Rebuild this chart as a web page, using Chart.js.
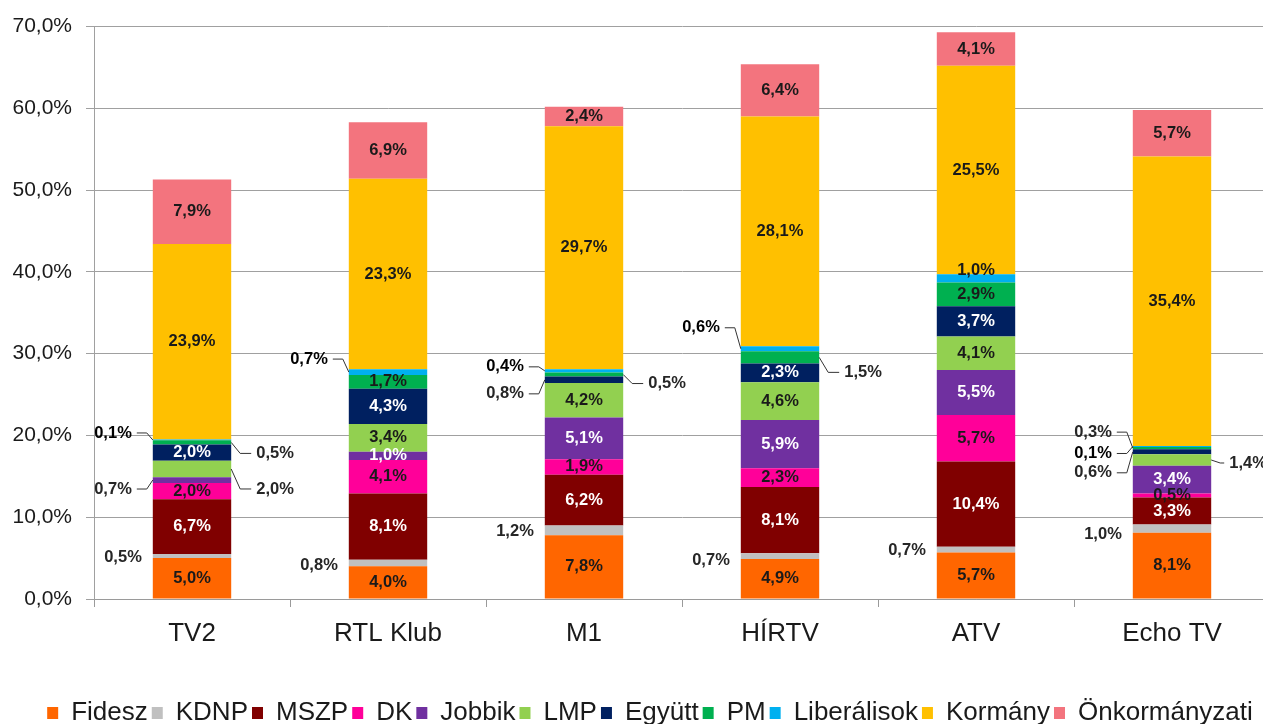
<!DOCTYPE html>
<html>
<head>
<meta charset="utf-8">
<script src="https://cdn.jsdelivr.net/npm/chart.js@4"></script>
<style>
    html, body { margin: 0; padding: 0; background: #fff; overflow: hidden; }
    #wrap { width: 1270px; height: 724px; }
</style>
</head>
<body>
<div id="wrap"><canvas id="mediaChart" width="1270" height="724"></canvas></div>
<script>
// categories and series (share of airtime, %)
const channels = ['TV2', 'RTL Klub', 'M1', 'HÍRTV', 'ATV', 'Echo TV'];
const parties = ['Fidesz', 'KDNP', 'MSZP', 'DK', 'Jobbik', 'LMP', 'Együtt', 'PM', 'Liberálisok', 'Kormány', 'Önkormányzati'];

const fidesz        = [5.0, 4.0, 7.8, 4.9, 5.7, 8.1];
const kdnp          = [0.5, 0.8, 1.2, 0.7, 0.7, 1.0];
const mszp          = [6.7, 8.1, 6.2, 8.1, 10.4, 3.3];
const dk            = [2.0, 4.1, 1.9, 2.3, 5.7, 0.5];
const jobbik        = [0.7, 1.0, 5.1, 5.9, 5.5, 3.4];
const lmp           = [2.0, 3.4, 4.2, 4.6, 4.1, 1.4];
const egyutt        = [2.0, 4.3, 0.8, 2.3, 3.7, 0.6];
const pm            = [0.5, 1.7, 0.5, 1.5, 2.9, 0.3];
const liberalisok   = [0.1, 0.7, 0.4, 0.6, 1.0, 0.1];
const kormany       = [23.9, 23.3, 29.7, 28.1, 25.5, 35.4];
const onkormanyzati = [7.9, 6.9, 2.4, 6.4, 4.1, 5.7];

const yTicks = [0, 10, 20, 30, 40, 50, 60, 70];

const series = [fidesz, kdnp, mszp, dk, jobbik, lmp, egyutt, pm, liberalisok, kormany, onkormanyzati];
const colors = ['#FF6600', '#C0C0C0', '#800000', '#FF0099', '#7030A0', '#92D050', '#002060', '#00B050', '#00B0F0', '#FFC000', '#F3747E'];
const whiteText = [2, 4, 6]; // MSZP, Jobbik, Együtt

// labels that sit outside the bar (key: bar-dataset), dy in px from segment middle
const callouts = {
    '0-1': { side: 'L', dy: 1 },
    '0-4': { side: 'L', dy: 9, leader: true },
    '0-5': { side: 'R', dy: 20, leader: true },
    '0-7': { side: 'R', dy: 11, leader: true },
    '0-8': { side: 'L', dy: -7, leader: true },
    '1-1': { side: 'L', dy: 2 },
    '1-8': { side: 'L', dy: -13, leader: true },
    '2-1': { side: 'L', dy: 1 },
    '2-6': { side: 'L', dy: 14, leader: true },
    '2-7': { side: 'R', dy: 9, leader: true },
    '2-8': { side: 'L', dy: -4, leader: true },
    '3-1': { side: 'L', dy: 4 },
    '3-7': { side: 'R', dy: 15, leader: true },
    '3-8': { side: 'L', dy: -21, leader: true },
    '4-1': { side: 'L', dy: 1 },
    '5-1': { side: 'L', dy: 6 },
    '5-5': { side: 'R', dy: 3, leader: true, gap: 18 },
    '5-6': { side: 'L', dy: 21, leader: true },
    '5-7': { side: 'L', dy: -16, leader: true },
    '5-8': { side: 'L', dy: 7, leader: true },
};
const insideShift = { '4-8': -8 };

const fmt = v => v.toFixed(1).replace('.', ',') + '%';
const axisFont = '"Liberation Sans", Arial, sans-serif';

const valueLabels = {
    id: 'valueLabels',
    afterLayout(chart) {
        // legend sits a little right of centre in the original
        if (chart.legend) {
            chart.legend.left += 9;
            chart.legend.right += 9;
        }
    },
    afterDatasetsDraw(chart) {
        const ctx = chart.ctx;
        ctx.save();
        ctx.textBaseline = 'middle';
        ctx.font = 'bold 16.5px ' + axisFont;
        chart.data.datasets.forEach((ds, di) => {
            const meta = chart.getDatasetMeta(di);
            meta.data.forEach((el, bi) => {
                const { x, y, base, width } = el.getProps(['x', 'y', 'base', 'width'], true);
                const mid = (y + base) / 2;
                const key = `${bi}-${di}`;
                const text = fmt(ds.data[bi]);
                const c = callouts[key];
                if (!c) {
                    ctx.fillStyle = whiteText.includes(di) ? '#ffffff' : '#1a1a1a';
                    ctx.textAlign = 'center';
                    ctx.fillText(text, x, mid + (insideShift[key] || 0));
                    return;
                }
                const left = x - width / 2, right = x + width / 2;
                const gap = c.gap || (c.leader ? (c.side === 'L' ? 21 : 25) : 11);
                const ly = mid + c.dy;
                ctx.fillStyle = di === 8 ? '#000000' : '#262626';
                if (c.side === 'L') {
                    ctx.textAlign = 'right';
                    ctx.fillText(text, left - gap, ly);
                } else {
                    ctx.textAlign = 'left';
                    ctx.fillText(text, right + gap, ly);
                }
                if (c.leader) {
                    ctx.strokeStyle = '#333333';
                    ctx.lineWidth = 1;
                    ctx.beginPath();
                    if (c.side === 'L') {
                        ctx.moveTo(left - gap + 5, ly);
                        ctx.lineTo(left - 6, ly);
                        ctx.lineTo(left, mid);
                    } else {
                        ctx.moveTo(right + gap - 5, ly);
                        ctx.lineTo(right + Math.min(9, gap - 8), ly);
                        ctx.lineTo(right, mid);
                    }
                    ctx.stroke();
                }
            });
        });
        ctx.restore();
    }
};

new Chart(document.getElementById('mediaChart'), {
    type: 'bar',
    data: {
        labels: channels,
        datasets: series.map((data, i) => ({
            label: parties[i],
            data,
            backgroundColor: colors[i],
            borderWidth: 0,
            barPercentage: 0.4,
            categoryPercentage: 1.0,
        }))
    },
    options: {
        responsive: false,
        animation: false,
        devicePixelRatio: 1,
        layout: { padding: { left: 12, top: 13, right: 0, bottom: -12 } },
        plugins: {
            tooltip: { enabled: false },
            legend: {
                position: 'bottom',
                labels: {
                    boxWidth: 11,
                    boxHeight: 12,
                    padding: 4,
                    color: '#1a1a1a',
                    font: { family: axisFont, size: 26 }
                }
            }
        },
        scales: {
            x: {
                stacked: true,
                afterFit: axis => { axis.height = 97; },
                grid: { drawOnChartArea: false, drawTicks: true, tickLength: 8, color: '#9a9a9a' },
                border: { color: '#9a9a9a' },
                ticks: { color: '#1a1a1a', padding: 11, font: { family: axisFont, size: 26 } }
            },
            y: {
                stacked: true,
                min: yTicks[0],
                max: yTicks[yTicks.length - 1],
                afterBuildTicks: axis => { axis.ticks = yTicks.map(v => ({ value: v })); },
                afterFit: axis => { axis.width = 82; },
                grid: { color: '#a0a0a0', tickLength: 8 },
                border: { color: '#a0a0a0' },
                ticks: {
                    color: '#1a1a1a',
                    padding: 14,
                    font: { family: axisFont, size: 21 },
                    callback: v => fmt(v)
                }
            }
        }
    },
    plugins: [valueLabels]
});
</script>
</body>
</html>
